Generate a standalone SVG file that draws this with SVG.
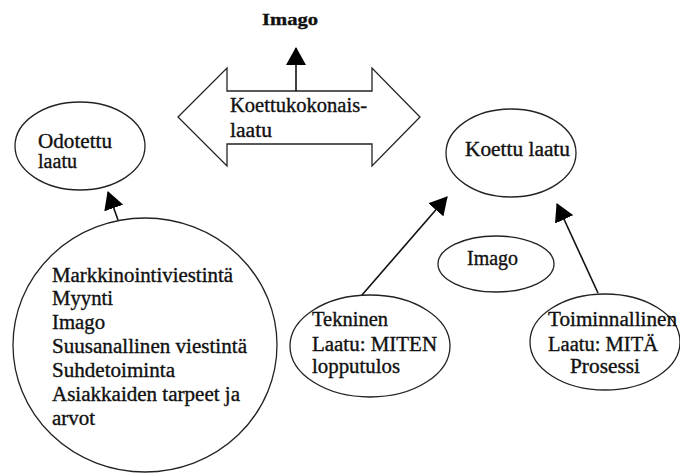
<svg xmlns="http://www.w3.org/2000/svg" width="680" height="473" viewBox="0 0 680 473">
<defs>
<style>
text{font-family:'Liberation Serif','Times New Roman','DejaVu Serif',serif;font-size:20px;fill:#111;stroke:#111;stroke-width:0.35}
.s{fill:#fff;stroke:#222;stroke-width:1.3}
.c{stroke:#111;stroke-width:1.6;fill:none}
</style>
<marker id="ah2" viewBox="0 0 18 20" refX="17" refY="10" markerWidth="18" markerHeight="20" orient="auto" markerUnits="userSpaceOnUse">
<path d="M0,0 L18,10 L0,20 z" fill="#000"/>
</marker>
</defs>
<rect width="680" height="473" fill="#fff"/>
<g id="title">
<text x="262" y="25" font-weight="bold" style="font-size:17px" textLength="56" lengthAdjust="spacingAndGlyphs">Imago</text>
</g>
<g id="koettukokonais">
<polygon class="s" points="178,117 227,68 227,91 372,91 372,68 420,117 372,166 372,144 227,144 227,166"/>
<text x="230" y="112" textLength="137" lengthAdjust="spacingAndGlyphs">Koettukokonais-</text>
<text x="230" y="137" textLength="42" lengthAdjust="spacingAndGlyphs">laatu</text>
</g>
<g id="odotettu">
<ellipse class="s" cx="80" cy="146" rx="65" ry="44"/>
<text x="38" y="148" textLength="74" lengthAdjust="spacingAndGlyphs">Odotettu</text>
<text x="38" y="168" textLength="39" lengthAdjust="spacingAndGlyphs">laatu</text>
</g>
<g id="tekijat">
<ellipse class="s" cx="145" cy="345" rx="132" ry="127"/>
<text x="52" y="282" textLength="181" lengthAdjust="spacingAndGlyphs">Markkinointiviestintä</text>
<text x="52" y="305" textLength="61" lengthAdjust="spacingAndGlyphs">Myynti</text>
<text x="52" y="329" textLength="53" lengthAdjust="spacingAndGlyphs">Imago</text>
<text x="52" y="353" textLength="195" lengthAdjust="spacingAndGlyphs">Suusanallinen viestintä</text>
<text x="52" y="377" textLength="123" lengthAdjust="spacingAndGlyphs">Suhdetoiminta</text>
<text x="52" y="401" textLength="188" lengthAdjust="spacingAndGlyphs">Asiakkaiden tarpeet ja</text>
<text x="52" y="425" textLength="43" lengthAdjust="spacingAndGlyphs">arvot</text>
</g>
<g id="koettu">
<ellipse class="s" cx="511" cy="153" rx="65" ry="44"/>
<text x="465" y="156" textLength="105" lengthAdjust="spacingAndGlyphs">Koettu laatu</text>
</g>
<g id="imago2">
<ellipse class="s" cx="496" cy="264" rx="58" ry="28"/>
<text x="467" y="265" textLength="51" lengthAdjust="spacingAndGlyphs">Imago</text>
</g>
<g id="tekninen">
<ellipse class="s" cx="370" cy="346" rx="80" ry="51"/>
<text x="312" y="326" textLength="76" lengthAdjust="spacingAndGlyphs">Tekninen</text>
<text x="312" y="351" textLength="125" lengthAdjust="spacingAndGlyphs">Laatu: MITEN</text>
<text x="312" y="373" textLength="88" lengthAdjust="spacingAndGlyphs">lopputulos</text>
</g>
<g id="toiminnallinen">
<ellipse class="s" cx="605" cy="342" rx="75" ry="48"/>
<text x="548" y="326" textLength="129" lengthAdjust="spacingAndGlyphs">Toiminnallinen</text>
<text x="548" y="351" textLength="110" lengthAdjust="spacingAndGlyphs">Laatu: MITÄ</text>
<text x="570" y="373" textLength="70" lengthAdjust="spacingAndGlyphs">Prosessi</text>
</g>
<g id="connectors">
<line class="c" x1="296" y1="91" x2="296" y2="48" marker-end="url(#ah2)"/>
<line class="c" x1="118" y1="220" x2="108" y2="192" marker-end="url(#ah2)"/>
<line class="c" x1="362" y1="295" x2="447" y2="197" marker-end="url(#ah2)"/>
<line class="c" x1="598" y1="293" x2="557" y2="204" marker-end="url(#ah2)"/>
</g>
</svg>
